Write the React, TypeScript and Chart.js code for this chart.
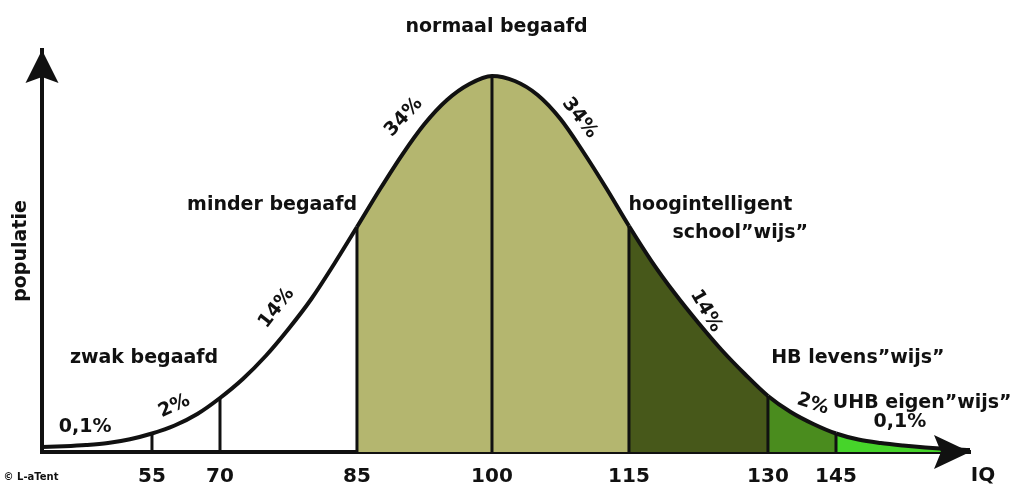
import React, { useEffect, useRef } from 'react';
import { Chart, registerables, LinearScale } from 'chart.js';

// ---- data ----
const IQ_POINTS = [30, 35, 40, 45, 50, 55, 60, 65, 70, 72.5, 75, 77.5, 80, 82.5, 85, 87.5, 90, 92.5, 95, 97.5, 100,
  102.5, 105, 107.5, 110, 112.5, 115, 117.5, 120, 122.5, 125, 127.5, 130, 135, 140, 145, 150, 155, 160, 165, 170, 175];
const POPULATION = [1.24, 1.44, 1.74, 2.24, 3.18, 4.6, 6.59, 9.45, 13.43, 18.16, 23.88, 30.6, 38.06, 46.77, 55.97,
  65.17, 73.88, 81.59, 87.56, 91.54, 93.53,
  92.29, 88.81, 82.84, 74.63, 65.67, 56.22, 47.26, 39.3, 32.09, 25.37, 19.4, 13.93, 9.95, 6.97, 4.6, 3.11, 2.24,
  1.62, 1.12, 0.75, 0.5];
const BOUNDARIES = [55, 70, 85, 100, 115, 130, 145];
const TICK_LABELS = ['55', '70', '85', '100', '115', '130', '145'];
const BAND_START = [85, 115, 130, 145];
const BAND_COLORS = ['#b4b66f', '#47581a', '#4a8c1e', '#46d42a'];

// piecewise axis (the drawing compresses the outer bands)
const AXIS_IQ = [30, 55, 70, 85, 100, 115, 130, 145, 175];
const AXIS_FRAC = [0, 0.1185, 0.1918, 0.3394, 0.4849, 0.6325, 0.7823, 0.8556, 1];

const ANNOTATIONS = [
  { text: 'normaal begaafd', iq: 100.5, pop: 105.7, rot: 0, size: 19 },
  { text: 'minder begaafd', iq: 75.7, pop: 61.4, rot: 0, size: 19 },
  { text: 'zwak begaafd', iq: 53.2, pop: 23.4, rot: 0, size: 19 },
  { text: 'hoogintelligent', iq: 123.8, pop: 61.4, rot: 0, size: 19 },
  { text: 'school\u201Dwijs\u201D', iq: 127.0, pop: 54.5, rot: 0, size: 19 },
  { text: 'HB levens\u201Dwijs\u201D', iq: 149.9, pop: 23.4, rot: 0, size: 19 },
  { text: 'UHB eigen\u201Dwijs\u201D', iq: 164.3, pop: 12.2, rot: 0, size: 19 },
  { text: '0,1%', iq: 159.3, pop: 7.5, rot: 0, size: 19 },
  { text: '0,1%', iq: 39.8, pop: 6.2, rot: 0, size: 19 },
  { text: '2%', iq: 59.9, pop: 11.4, rot: -25, size: 19 },
  { text: '14%', iq: 76.2, pop: 35.8, rot: -52, size: 19 },
  { text: '34%', iq: 90.2, pop: 83.3, rot: -47, size: 19 },
  { text: '34%', iq: 109.6, pop: 83.1, rot: 52, size: 19 },
  { text: '14%', iq: 123.3, pop: 35.1, rot: 60, size: 19 },
  { text: '2%', iq: 139.9, pop: 11.9, rot: 18, size: 19 },
  { text: 'IQ', iq: 177.9, pop: -5.9, rot: 0, size: 20 },
  { text: '\u00A9 L-aTent', iq: 27.5, pop: -6.2, rot: 0, size: 10 },
];

const FONT = '"DejaVu Sans", sans-serif';

function toFrac(v: number): number {
  if (v <= AXIS_IQ[0]) return AXIS_FRAC[0] + (v - AXIS_IQ[0]) * (AXIS_FRAC[1] - AXIS_FRAC[0]) / (AXIS_IQ[1] - AXIS_IQ[0]);
  for (let i = 1; i < AXIS_IQ.length; i++) {
    if (v <= AXIS_IQ[i] || i === AXIS_IQ.length - 1) {
      const t = (v - AXIS_IQ[i - 1]) / (AXIS_IQ[i] - AXIS_IQ[i - 1]);
      return AXIS_FRAC[i - 1] + t * (AXIS_FRAC[i] - AXIS_FRAC[i - 1]);
    }
  }
  return 1;
}
function fromFrac(f: number): number {
  for (let i = 1; i < AXIS_FRAC.length; i++) {
    if (f <= AXIS_FRAC[i] || i === AXIS_FRAC.length - 1) {
      const t = (f - AXIS_FRAC[i - 1]) / (AXIS_FRAC[i] - AXIS_FRAC[i - 1]);
      return AXIS_IQ[i - 1] + t * (AXIS_IQ[i] - AXIS_IQ[i - 1]);
    }
  }
  return AXIS_IQ[AXIS_IQ.length - 1];
}

class PiecewiseScale extends LinearScale {
  static id = 'piecewise';
  getPixelForValue(value: number) {
    if (value === null || value === undefined || isNaN(value)) return NaN;
    return this.getPixelForDecimal(toFrac(value));
  }
  getValueForPixel(pixel: number) {
    return fromFrac(this.getDecimalForPixel(pixel));
  }
}

Chart.register(...registerables, PiecewiseScale as any);

function bandColor(x: number): string {
  let c = 'rgba(0,0,0,0)';
  for (let i = 0; i < BAND_START.length; i++) if (x >= BAND_START[i] - 1e-6) c = BAND_COLORS[i];
  return c;
}

const arrowsAndNotes = {
  id: 'arrowsAndNotes',
  afterDraw(chart: any) {
    const { ctx, chartArea } = chart;
    const xs = chart.scales.x;
    const ys = chart.scales.y;
    ctx.save();
    ctx.fillStyle = '#111';
    // up arrow on population axis
    const lx = chartArea.left, ty = chartArea.top;
    ctx.beginPath();
    ctx.moveTo(lx, ty);
    ctx.lineTo(lx + 16.5, ty + 33);
    ctx.lineTo(lx, ty + 27);
    ctx.lineTo(lx - 16.5, ty + 33);
    ctx.closePath();
    ctx.fill();
    // right arrow on IQ axis
    const rx = chartArea.right, by = chartArea.bottom;
    ctx.beginPath();
    ctx.moveTo(rx, by);
    ctx.lineTo(rx - 36, by - 17);
    ctx.lineTo(rx - 29, by);
    ctx.lineTo(rx - 36, by + 17);
    ctx.closePath();
    ctx.fill();
    // text notes
    ctx.textAlign = 'center';
    ctx.textBaseline = 'middle';
    for (const a of ANNOTATIONS) {
      const px = xs.getPixelForValue(a.iq);
      const py = ys.getPixelForValue(a.pop);
      ctx.save();
      ctx.translate(px, py);
      ctx.rotate((a.rot * Math.PI) / 180);
      ctx.font = `bold ${a.size}px ${FONT}`;
      ctx.fillText(a.text, 0, 0);
      ctx.restore();
    }
    ctx.restore();
  },
};

export default function App() {
  const ref = useRef<HTMLCanvasElement | null>(null);
  useEffect(() => {
    document.body.style.margin = '0';
    const canvas = ref.current;
    if (!canvas) return;
    const curve = IQ_POINTS.map((x, i) => ({ x, y: POPULATION[i] }));
    const lines = BOUNDARIES.map((b) => ({
      type: 'line' as const,
      data: [{ x: b, y: 0 }, { x: b, y: POPULATION[IQ_POINTS.indexOf(b)] }],
      borderColor: '#111',
      borderWidth: 3,
      pointRadius: 0,
      fill: false,
      tension: 0,
    }));
    const chart = new Chart(canvas, {
      type: 'line',
      data: {
        datasets: [
          {
            data: curve,
            borderColor: '#111',
            borderWidth: 4,
            pointRadius: 0,
            fill: 'origin',
            backgroundColor: 'rgba(0,0,0,0)',
            tension: 0.4,
            cubicInterpolationMode: 'monotone',
            segment: { backgroundColor: (c: any) => bandColor(c.p0.parsed.x) },
          } as any,
          ...lines,
        ],
      },
      options: {
        responsive: false,
        animation: false,
        events: [],
        layout: { padding: { top: 50, right: 41, left: 0, bottom: 0 } },
        plugins: {
          legend: { display: false },
          tooltip: { enabled: false },
          filler: { drawTime: 'beforeDatasetsDraw' },
        } as any,
        scales: {
          x: {
            type: 'piecewise' as any,
            min: 30,
            max: 175,
            z: 1,
            grid: { display: false },
            border: { display: true, color: '#111', width: 4 },
            afterBuildTicks: (s: any) => { s.ticks = BOUNDARIES.map((v) => ({ value: v })); },
            afterFit: (s: any) => { s.height = 34; },
            ticks: {
              autoSkip: false,
              maxRotation: 0,
              padding: 5,
              color: '#111',
              font: { family: FONT, size: 20, weight: 'bold' },
              callback: (_v: any, i: number) => TICK_LABELS[i],
            },
          } as any,
          y: {
            min: 0,
            max: 100,
            z: 1,
            grid: { display: false },
            border: { display: true, color: '#111', width: 4 },
            ticks: { display: false },
            afterFit: (s: any) => { s.width = 42; },
            title: {
              display: true,
              text: 'populatie',
              color: '#111',
              font: { family: FONT, size: 19, weight: 'bold' },
              padding: { top: 10, bottom: 0 },
            },
          } as any,
        },
      },
      plugins: [arrowsAndNotes],
    });
    return () => chart.destroy();
  }, []);
  return (
    <div style={{ width: 1011, height: 486, background: '#fff' }}>
      <canvas ref={ref} width={1011} height={486} />
    </div>
  );
}
